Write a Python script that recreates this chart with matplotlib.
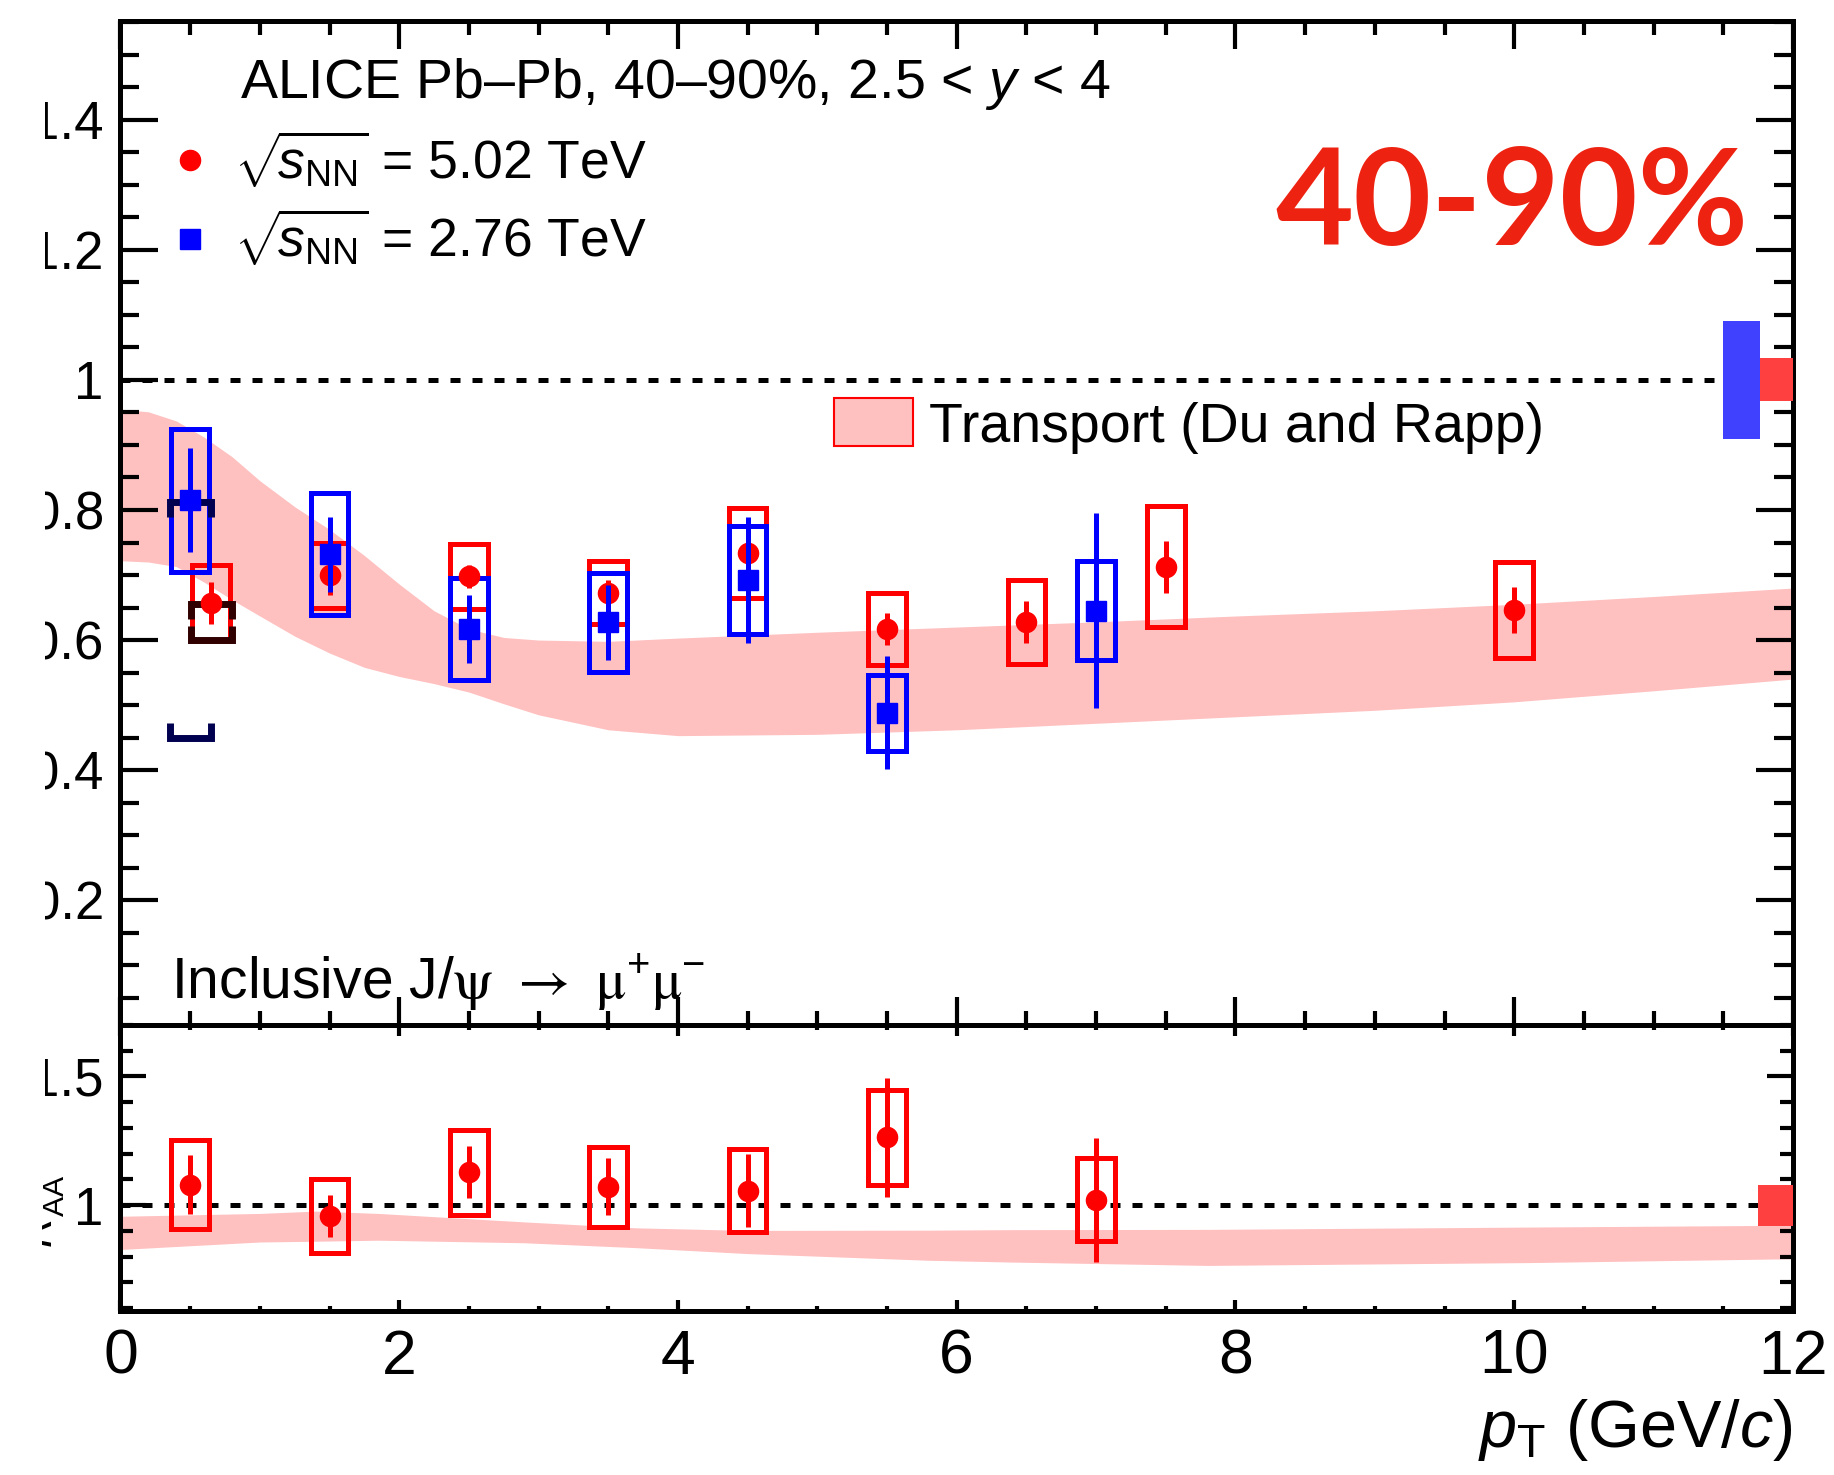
import matplotlib
matplotlib.use("Agg")
import matplotlib.pyplot as plt
from matplotlib.patches import Rectangle, Patch
from matplotlib.lines import Line2D
from matplotlib.ticker import MultipleLocator, FuncFormatter
from matplotlib.transforms import Bbox, TransformedBbox

plt.rcParams['font.family'] = ['Liberation Sans', 'DejaVu Sans']
plt.rcParams['mathtext.fontset'] = 'custom'
plt.rcParams['mathtext.rm'] = 'Liberation Sans'
plt.rcParams['mathtext.it'] = 'Liberation Sans:italic'
plt.rcParams['mathtext.bf'] = 'Liberation Sans:bold'
plt.rcParams['mathtext.sf'] = 'STIXGeneral'

# R_AA at 5.02 TeV
pt_502 = [0.65, 1.5, 2.5, 3.5, 4.5, 5.5, 6.5, 7.5, 10.0]
raa_502 = [0.657, 0.700, 0.698, 0.673, 0.734, 0.617, 0.628, 0.713, 0.646]
stat_502 = [0.033, 0.030, 0.018, 0.020, 0.030, 0.025, 0.032, 0.040, 0.035]
syst_502 = [0.059, 0.050, 0.050, 0.048, 0.069, 0.055, 0.065, 0.093, 0.074]

# R_AA at 2.76 TeV
pt_276 = [0.5, 1.5, 2.5, 3.5, 4.5, 5.5, 7.0]
raa_276 = [0.815, 0.732, 0.617, 0.627, 0.692, 0.488, 0.645]
stat_276 = [0.080, 0.058, 0.053, 0.058, 0.097, 0.087, 0.150]
syst_276 = [0.110, 0.094, 0.079, 0.076, 0.083, 0.058, 0.076]

# ratio 5.02 / 2.76
pt_ratio = [0.5, 1.5, 2.5, 3.5, 4.5, 5.5, 7.0]
ratio = [1.080, 0.958, 1.128, 1.072, 1.056, 1.263, 1.021]
ratio_stat = [0.115, 0.083, 0.100, 0.110, 0.141, 0.230, 0.240]
ratio_syst = [0.173, 0.142, 0.165, 0.155, 0.162, 0.183, 0.162]

# global (correlated) uncertainties around unity
glob_276 = 0.091
glob_502 = 0.033
glob_ratio = 0.080

# low-pt brackets
bracket_pt = [0.5, 0.65]
bracket_lo = [0.450, 0.600]
bracket_hi = [0.812, 0.655]
bracket_col = ['#000050', '#300000']

# transport model (Du and Rapp), R_AA band
model_pt = [0, 0.2, 0.4, 0.6, 0.8, 1.0, 1.25, 1.5, 1.75, 2.0, 2.25, 2.5, 2.75,
            3.0, 3.5, 4.0, 5.0, 6.0, 7.0, 8.0, 9.0, 10.0, 11.0, 12.0]
model_hi = [0.955, 0.951, 0.937, 0.912, 0.882, 0.845, 0.805, 0.770, 0.730, 0.686,
            0.645, 0.617, 0.604, 0.600, 0.598, 0.603, 0.612, 0.620, 0.628, 0.637,
            0.645, 0.655, 0.667, 0.680]
model_lo = [0.722, 0.720, 0.713, 0.689, 0.662, 0.637, 0.606, 0.580, 0.558, 0.544,
            0.533, 0.520, 0.502, 0.485, 0.462, 0.453, 0.455, 0.462, 0.472, 0.482,
            0.492, 0.505, 0.522, 0.540]

# transport model, ratio band
mratio_pt = [0, 1.0, 1.4, 1.85, 2.9, 3.7, 4.5, 5.8, 6.4, 7.8, 10.1, 12.0]
mratio_hi = [0.957, 0.968, 0.977, 0.968, 0.935, 0.912, 0.902, 0.903, 0.905, 0.906, 0.915, 0.922]
mratio_lo = [0.828, 0.857, 0.860, 0.864, 0.854, 0.835, 0.812, 0.786, 0.779, 0.766, 0.777, 0.792]

band_col = '#ffc0c0'
lw = 3.6
box_hw = 0.135


def syst_boxes(a, x, y, dy, color, z):
    for xi, yi, di in zip(x, y, dy):
        a.add_patch(Rectangle((xi - box_hw, yi - di), 2 * box_hw, 2 * di,
                              fill=False, ec=color, lw=lw, zorder=z))


def bracket(a, x, lo, hi, color):
    hw, leg = 0.147, 0.022
    a.plot([x - hw, x - hw, x + hw, x + hw], [hi - leg, hi, hi, hi - leg],
           color=color, lw=5, solid_joinstyle='miter', solid_capstyle='butt', zorder=4.5)
    a.plot([x - hw, x - hw, x + hw, x + hw], [lo + leg, lo, lo, lo + leg],
           color=color, lw=5, solid_joinstyle='miter', solid_capstyle='butt', zorder=4.5)


fig = plt.figure(figsize=(18.34, 14.75), dpi=100)
ax = fig.add_axes([0.0657, 0.30508, 0.91194, 0.68068])
ax2 = fig.add_axes([0.0657, 0.11119, 0.91194, 0.19390])

# ---- upper panel
ax.fill_between(model_pt, model_lo, model_hi, color=band_col, lw=0, zorder=1)
ax.axhline(1, color='black', lw=lw, ls=(0, (2.0, 2.4)), zorder=1.5)

syst_boxes(ax, pt_502, raa_502, syst_502, 'red', 3)
syst_boxes(ax, pt_276, raa_276, syst_276, 'blue', 4)
for x, lo, hi, c in zip(bracket_pt, bracket_lo, bracket_hi, bracket_col):
    bracket(ax, x, lo, hi, c)
ax.errorbar(pt_502, raa_502, yerr=stat_502, fmt='o', color='red', ms=14.5,
            elinewidth=lw, capsize=0, zorder=5)
ax.errorbar(pt_276, raa_276, yerr=stat_276, fmt='s', color='blue', ms=14.5,
            elinewidth=lw, capsize=0, zorder=6)

ax.add_patch(Rectangle((11.5, 1 - glob_276), 0.26, 2 * glob_276, fc='#4040ff', ec='none', zorder=7))
ax.add_patch(Rectangle((11.76, 1 - glob_502), 0.24, 2 * glob_502, fc='#ff4040', ec='none', zorder=7))

ax.set_xlim(0, 12)
ax.set_ylim(0.008, 1.552)

# ---- lower panel
ax2.fill_between(mratio_pt, mratio_lo, mratio_hi, color=band_col, lw=0, zorder=1)
ax2.axhline(1, color='black', lw=lw, ls=(0, (2.0, 2.4)), zorder=1.5)
syst_boxes(ax2, pt_ratio, ratio, ratio_syst, 'red', 3)
ax2.errorbar(pt_ratio, ratio, yerr=ratio_stat, fmt='o', color='red', ms=14.5,
             elinewidth=lw, capsize=0, zorder=5)
ax2.add_patch(Rectangle((11.75, 1 - glob_ratio), 0.25, 2 * glob_ratio, fc='#ff4040', ec='none', zorder=7))
ax2.set_xlim(0, 12)
ax2.set_ylim(0.589, 1.70)

# ---- axes styling
fmt = FuncFormatter(lambda v, p: f'{v:g}')
for a in (ax, ax2):
    a.xaxis.set_major_locator(MultipleLocator(2))
    a.xaxis.set_minor_locator(MultipleLocator(0.5))
    a.tick_params(which='both', direction='in', top=True, right=True, width=3)
    for s in a.spines.values():
        s.set_linewidth(lw)
    a.yaxis.set_major_formatter(fmt)
    a.xaxis.set_major_formatter(fmt)

ax.yaxis.set_major_locator(MultipleLocator(0.2))
ax.yaxis.set_minor_locator(MultipleLocator(0.05))
ax.tick_params(axis='y', which='major', length=27, labelsize=38, pad=12)
ax.tick_params(axis='y', which='minor', length=13.7)
ax.tick_params(axis='x', which='major', length=20, labelbottom=False)
ax.tick_params(axis='x', which='minor', length=10)

ax2.yaxis.set_major_locator(MultipleLocator(0.5))
ax2.yaxis.set_minor_locator(MultipleLocator(0.1))
ax2.tick_params(axis='y', which='major', length=18.7, labelsize=38, pad=12)
ax2.tick_params(axis='y', which='minor', length=9.4)
ax2.tick_params(axis='x', which='major', length=8, labelsize=45, pad=12)
ax2.tick_params(axis='x', which='minor', length=3.6)

ax2.set_xlabel(r"$p_{\rm T}$ (GeV/$c$)", fontsize=48, ha='right', va='baseline')
ax2.xaxis.set_label_coords(1.0, -0.4755)
ax2.set_ylabel(r"$\dfrac{R_{\rm AA}^{5.02\ {\rm TeV}}}{R_{\rm AA}^{2.76\ {\rm TeV}}}$", fontsize=31)
ax2.yaxis.set_label_coords(-0.0322, 0.5)

# ---- texts and legends
ax.text(0.0717, 0.9233, r"ALICE Pb–Pb, 40–90%, 2.5 < $y$ < 4", transform=ax.transAxes,
        fontsize=40, va='baseline')
ax.text(0.9737, 0.7769, "40-90%", transform=ax.transAxes, ha='right', va='baseline',
        fontsize=97, fontfamily='Lato', fontweight='bold', color='#ee2211')
ax.text(0.0302, 0.0269,
        r"Inclusive J/$\mathsf{\psi}$ $\mathsf{\rightarrow}$ $\mathsf{\mu}^{+}\mathsf{\mu}^{-}$",
        transform=ax.transAxes, fontsize=41, va='baseline')

h502 = Line2D([], [], ls='none', marker='o', color='red', ms=14.5)
h276 = Line2D([], [], ls='none', marker='s', color='blue', ms=14.5)
leg1 = ax.legend([h502, h276],
                 [r"$\sqrt{\!s_{\rm NN}}$ = 5.02 TeV", r"$\sqrt{\!s_{\rm NN}}$ = 2.76 TeV"],
                 loc='center left', bbox_to_anchor=(0.0253, 0.823), frameon=False,
                 fontsize=38.5, handlelength=1.0, handletextpad=0.33, labelspacing=0.32,
                 borderpad=0, borderaxespad=0)
ax.add_artist(leg1)
ax.legend([Patch(fc=band_col, ec='red', lw=1.5)], ["Transport (Du and Rapp)"],
          loc='center left', bbox_to_anchor=(0.4265, 0.5966), frameon=False,
          fontsize=40, handlelength=1.42, handleheight=0.95, handletextpad=0.3,
          borderpad=0, borderaxespad=0)

# the left margin cuts the y labels
clip = TransformedBbox(Bbox.from_extents(45 / 1834, 0, 1, 1), fig.transFigure)
for t in ax.yaxis.get_major_ticks() + ax2.yaxis.get_major_ticks():
    t.label1.set_clip_box(clip)
    t.label1.set_clip_on(True)
clip_title = TransformedBbox(Bbox.from_extents(42 / 1834, 0, 1, 1), fig.transFigure)
ax2.yaxis.label.set_clip_box(clip_title)
ax2.yaxis.label.set_clip_on(True)

fig.savefig('out.png', dpi=100)
